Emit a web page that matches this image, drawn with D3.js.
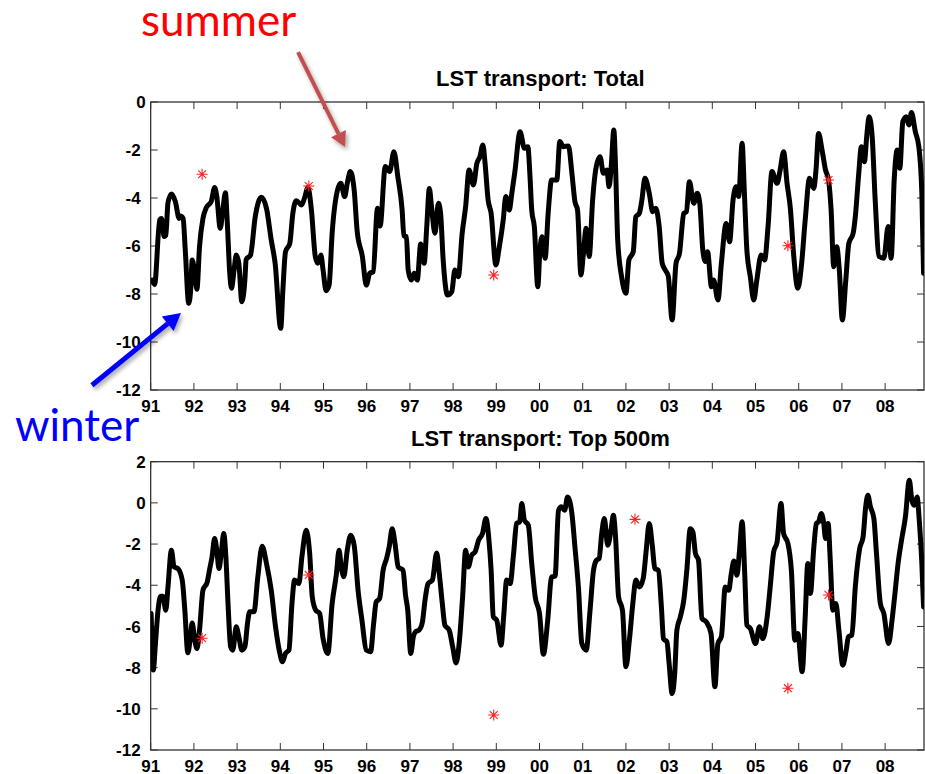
<!DOCTYPE html>
<html>
<head>
<meta charset="utf-8">
<script src="https://cdn.jsdelivr.net/npm/d3@7"></script>
<style>
  body { margin: 0; background: #fff; }
  svg { display: block; }
  .tick-label { font-family: "Liberation Sans", Arial, sans-serif; font-weight: bold; font-size: 17px; fill: #000; }
  .title { font-family: "Liberation Sans", Arial, sans-serif; font-weight: bold; font-size: 22px; fill: #000; }
  .note { font-family: Lato, "Open Sans", sans-serif; font-size: 44px; }
</style>
</head>
<body>
<div id="chart"></div>
<script>
// Série "Total" (années décimales, Sv)
const topYears = [1991.03,1991.09,1991.21,1991.25,1991.31,1991.35,1991.40,1991.48,1991.57,1991.66,1991.69,1991.75,1991.80,1991.88,1991.93,1991.96,
  1992.02,1992.07,1992.13,1992.21,1992.29,1992.40,1992.48,1992.53,1992.61,1992.67,1992.73,1992.77,1992.83,1992.87,1992.93,1992.98,
  1993.04,1993.11,1993.18,1993.21,1993.31,1993.42,1993.56,1993.68,1993.79,1993.88,
  1994.01,1994.06,1994.12,1994.22,1994.29,1994.37,1994.49,1994.56,1994.64,1994.72,1994.81,1994.87,1994.94,1994.99,
  1995.06,1995.13,1995.20,1995.32,1995.40,1995.49,1995.55,1995.62,1995.71,1995.78,1995.90,1995.99,
  1996.07,1996.15,1996.25,1996.31,1996.43,1996.53,1996.63,1996.72,1996.82,1996.86,1996.92,1996.96,
  1997.03,1997.10,1997.17,1997.25,1997.33,1997.39,1997.45,1997.50,1997.58,1997.66,1997.71,1997.77,1997.87,1997.97,
  1998.04,1998.12,1998.21,1998.29,1998.37,1998.47,1998.55,1998.62,1998.69,1998.74,1998.81,1998.88,1998.99,
  1999.07,1999.16,1999.22,1999.30,1999.36,1999.43,1999.55,1999.65,1999.73,1999.78,1999.82,1999.88,1999.96,
  2000.01,2000.06,2000.13,2000.20,2000.28,2000.40,2000.47,2000.55,2000.67,2000.75,2000.82,2000.88,2000.96,
  2001.01,2001.08,2001.15,2001.23,2001.30,2001.40,2001.48,2001.56,2001.61,2001.66,2001.72,2001.76,2001.81,2001.90,
  2002.00,2002.07,2002.17,2002.23,2002.31,2002.37,2002.44,2002.54,2002.62,2002.69,2002.77,2002.84,2002.91,2002.98,
  2003.07,2003.16,2003.24,2003.34,2003.40,2003.47,2003.57,2003.65,2003.71,2003.78,2003.84,2003.89,2003.98,
  2004.03,2004.13,2004.21,2004.32,2004.40,2004.48,2004.55,2004.61,2004.69,2004.74,2004.80,2004.88,2004.96,
  2005.03,2005.13,2005.21,2005.29,2005.38,2005.50,2005.57,2005.65,2005.73,2005.81,2005.88,2005.98,
  2006.06,2006.15,2006.25,2006.35,2006.40,2006.46,2006.54,2006.62,2006.69,2006.75,2006.81,2006.88,2006.94,
  2007.01,2007.09,2007.16,2007.26,2007.31,2007.39,2007.45,2007.52,2007.58,2007.63,2007.70,2007.77,2007.86,2007.97,
  2008.07,2008.14,2008.21,2008.28,2008.34,2008.41,2008.49,2008.55,2008.61,2008.70,2008.78,2008.85,2008.89];
const topValues = [-7.42,-7.6,-4.9,-4.85,-5.6,-5.55,-4.2,-3.83,-4.15,-4.85,-4.75,-4.85,-6.17,-8.39,-7.7,-6.58,
  -7.14,-7.8,-6.03,-4.85,-4.39,-4.15,-3.56,-3.94,-5.26,-4.5,-3.78,-4.92,-7.14,-7.76,-7.0,-6.38,
  -6.72,-8.32,-7.42,-6.56,-6.38,-4.78,-3.97,-4.43,-5.75,-6.72,
  -9.43,-7.83,-6.24,-5.89,-4.64,-4.11,-4.29,-4.01,-3.56,-4.5,-6.44,-6.72,-6.38,-7.0,
  -7.86,-7.63,-5.47,-3.7,-3.39,-3.94,-3.39,-2.9,-3.67,-5.4,-6.44,-7.63,
  -7.14,-7.07,-4.43,-5.17,-2.69,-2.9,-2.07,-3.11,-4.5,-5.58,-5.61,-7.0,
  -7.42,-7.14,-7.42,-5.92,-6.72,-5.19,-3.6,-4.36,-5.47,-4.22,-4.64,-6.58,-8.04,-7.9,
  -7.0,-7.28,-5.47,-4.36,-2.83,-3.46,-2.56,-2.28,-1.79,-2.56,-4.08,-4.64,-6.79,
  -6.03,-4.92,-3.94,-4.5,-3.8,-2.9,-1.24,-1.93,-1.86,-3.11,-4.5,-5.19,-7.7,
  -6.17,-5.61,-6.51,-4.64,-3.25,-3.25,-1.65,-1.86,-1.83,-2.97,-4.15,-4.5,-7.21,
  -6.44,-5.26,-6.44,-4.08,-2.83,-2.28,-2.97,-2.83,-3.53,-2.69,-1.17,-2.69,-5.75,-7.28,
  -7.97,-6.58,-6.24,-4.78,-4.64,-4.08,-3.18,-3.8,-4.57,-4.43,-5.19,-6.72,-7.0,-7.25,
  -9.08,-6.72,-6.31,-4.64,-4.57,-3.32,-4.22,-3.8,-4.22,-6.17,-6.65,-6.24,-7.7,
  -7.42,-8.25,-6.72,-5.06,-5.82,-4.08,-3.53,-3.94,-1.72,-3.67,-6.17,-7.28,-8.25,
  -7.42,-6.38,-6.58,-5.19,-2.9,-3.39,-2.83,-2.07,-3.39,-4.5,-6.31,-7.76,
  -6.86,-4.92,-3.18,-3.6,-2.83,-1.31,-2.0,-2.83,-3.25,-4.5,-6.86,-6.03,-7.0,
  -9.08,-7.42,-5.89,-5.47,-4.78,-2.97,-1.86,-2.49,-1.31,-0.61,-1.44,-4.08,-6.44,-6.51,
  -5.19,-6.51,-3.25,-2.0,-2.76,-0.82,-0.61,-0.96,-0.44,-1.24,-1.86,-3.8,-7.14];

// Série "Top 500m"
const botYears = [1991.01,1991.06,1991.11,1991.17,1991.23,1991.28,1991.35,1991.40,1991.48,1991.54,1991.63,1991.73,1991.79,1991.86,1991.92,1991.96,
  1992.02,1992.07,1992.13,1992.21,1992.31,1992.36,1992.42,1992.48,1992.53,1992.58,1992.64,1992.69,1992.74,1992.79,1992.85,1992.90,1992.98,
  1993.04,1993.11,1993.18,1993.24,1993.29,1993.39,1993.48,1993.58,1993.68,1993.79,1993.89,1993.99,
  1994.05,1994.12,1994.20,1994.27,1994.33,1994.43,1994.50,1994.60,1994.68,1994.74,1994.82,1994.91,1994.99,
  1995.10,1995.20,1995.30,1995.36,1995.41,1995.47,1995.55,1995.63,1995.71,1995.80,1995.89,1995.99,
  1996.09,1996.16,1996.22,1996.30,1996.38,1996.46,1996.52,1996.59,1996.65,1996.73,1996.84,1996.90,1996.95,
  1997.02,1997.08,1997.13,1997.21,1997.29,1997.35,1997.42,1997.52,1997.62,1997.68,1997.75,1997.81,1997.91,1997.99,
  1998.07,1998.14,1998.22,1998.29,1998.35,1998.43,1998.51,1998.59,1998.68,1998.76,1998.83,1998.88,1998.93,
  1999.01,1999.11,1999.17,1999.24,1999.32,1999.40,1999.47,1999.54,1999.59,1999.65,1999.74,1999.82,1999.90,
  2000.00,2000.09,2000.19,2000.28,2000.36,2000.44,2000.51,2000.58,2000.65,2000.75,2000.82,2000.90,2000.98,
  2001.08,2001.17,2001.25,2001.32,2001.38,2001.44,2001.50,2001.58,2001.66,2001.71,2001.76,2001.83,2001.92,
  2002.00,2002.08,2002.16,2002.23,2002.31,2002.40,2002.47,2002.54,2002.61,2002.67,2002.75,2002.82,2002.87,2002.95,
  2003.00,2003.07,2003.13,2003.18,2003.26,2003.34,2003.41,2003.49,2003.55,2003.61,2003.68,2003.76,2003.86,2003.97,
  2004.06,2004.13,2004.21,2004.30,2004.38,2004.44,2004.50,2004.57,2004.63,2004.69,2004.75,2004.80,2004.88,
  2005.00,2005.09,2005.17,2005.27,2005.34,2005.42,2005.50,2005.59,2005.65,2005.75,2005.83,2005.91,2005.98,
  2006.08,2006.15,2006.21,2006.27,2006.35,2006.41,2006.46,2006.52,2006.58,2006.62,2006.68,2006.73,2006.79,2006.86,2006.93,
  2007.02,2007.10,2007.15,2007.23,2007.31,2007.41,2007.49,2007.55,2007.60,2007.66,2007.74,2007.80,2007.89,2007.97,
  2008.08,2008.16,2008.22,2008.30,2008.38,2008.47,2008.56,2008.62,2008.67,2008.74,2008.79,2008.85,2008.89];
const botValues = [-5.37,-8.12,-6.83,-5.21,-4.53,-4.53,-5.21,-4.08,-2.30,-3.11,-3.19,-3.75,-5.21,-7.28,-6.50,-5.83,
  -6.67,-7.07,-6.18,-4.24,-3.83,-3.27,-2.62,-1.73,-2.30,-3.19,-2.30,-1.49,-2.62,-4.89,-6.99,-7.15,-6.02,
  -6.50,-7.15,-6.99,-5.86,-5.29,-5.29,-3.59,-2.10,-2.94,-4.24,-6.02,-7.31,
  -7.72,-7.31,-7.15,-4.89,-3.75,-3.92,-2.62,-1.33,-2.46,-4.56,-5.21,-5.37,-6.59,
  -7.31,-4.89,-3.43,-2.30,-3.11,-3.59,-2.30,-1.57,-2.06,-4.24,-5.70,-7.15,
  -7.23,-5.86,-4.81,-4.64,-3.27,-2.70,-2.14,-1.25,-1.89,-3.11,-3.27,-4.5,-5.21,
  -7.31,-6.50,-6.26,-6.18,-5.78,-4.72,-3.92,-3.75,-2.43,-3.43,-4.89,-5.94,-6.18,-6.99,
  -7.77,-6.83,-4.56,-2.30,-3.11,-2.54,-2.38,-1.81,-1.49,-0.76,-1.81,-3.27,-5.53,
  -5.70,-6.91,-5.53,-3.75,-3.92,-2.46,-1.00,-0.92,-0.03,-0.84,-1.08,-2.94,-4.56,
  -5.37,-7.35,-5.70,-3.59,-3.56,-0.36,-0.19,-0.36,0.29,-0.52,-2.14,-4.08,-6.83,
  -7.15,-5.21,-3.27,-2.78,-2.70,-1.49,-0.76,-2.06,-1.25,-0.60,-1.65,-4.56,-5.21,
  -7.96,-6.67,-4.89,-3.75,-4.08,-3.67,-2.30,-1.00,-2.06,-3.19,-3.27,-5.0,-6.6,-6.75,
  -7.80,-9.26,-8.28,-6.18,-5.53,-4.72,-3.27,-1.25,-1.41,-2.46,-2.78,-5.61,-5.78,-6.34,
  -8.93,-6.83,-6.50,-4.08,-4.24,-3.43,-2.82,-3.51,-2.30,-0.92,-3.43,-5.94,-6.10,
  -6.83,-6.02,-6.59,-5.53,-4.08,-2.38,-1.89,-0.03,-1.49,-1.97,-3.27,-6.67,-6.34,
  -8.20,-5.53,-2.94,-4.40,-2.14,-1.00,-0.92,-0.52,-1.00,-1.73,-1.00,-2.78,-5.21,-4.89,-6.18,
  -7.88,-7.15,-6.50,-6.42,-4.08,-2.22,-1.65,-0.19,0.37,-0.19,-0.76,-2.46,-4.89,-5.37,
  -6.83,-5.70,-4.56,-2.94,-1.81,-0.68,1.10,0.13,-0.11,0.29,-0.84,-2.94,-5.05];

// Observations (étoiles rouges)
const topStarYears = [1992.19, 1994.66, 1998.94, 2005.75, 2006.69];
const topStarValues = [-3.01, -3.5, -7.21, -5.99, -3.25];
const botStarYears = [1992.19, 1994.66, 1998.94, 2002.21, 2005.75, 2006.69];
const botStarValues = [-6.57, -3.5, -10.3, -0.8, -9.0, -4.47];

// Axes
const xDomain = [1991, 2008.9];
const xTicks = d3.range(1991, 2009);
const topYTicks = [0, -2, -4, -6, -8, -10, -12];
const botYTicks = [2, 0, -2, -4, -6, -8, -10, -12];

const width = 925;
const height = 774;
const left = 150.7;
const right = 924;
const tickLen = 7;

const svg = d3.select("#chart").append("svg")
  .attr("width", width)
  .attr("height", height);

const defs = svg.append("defs");
const shadow = defs.append("filter").attr("id", "shadow")
  .attr("x", "-20%").attr("y", "-20%").attr("width", "140%").attr("height", "140%");
shadow.append("feDropShadow")
  .attr("dx", 2).attr("dy", 3).attr("stdDeviation", 2)
  .attr("flood-color", "#000").attr("flood-opacity", 0.35);

const x = d3.scaleLinear().domain(xDomain).range([left, right]);

function starPath(r) {
  const d = r * 0.72;
  return `M${-r},0H${r}M0,${-r}V${r}M${-d},${-d}L${d},${d}M${-d},${d}L${d},${-d}`;
}

function drawPanel(cfg) {
  const y = d3.scaleLinear().domain(cfg.yDomain).range([cfg.bottom, cfg.top]);
  const g = svg.append("g");

  g.append("clipPath").attr("id", cfg.id)
    .append("rect")
    .attr("x", left).attr("y", cfg.top)
    .attr("width", right - left).attr("height", cfg.bottom - cfg.top);

  // Cadre
  g.append("rect")
    .attr("x", left).attr("y", cfg.top)
    .attr("width", right - left).attr("height", cfg.bottom - cfg.top)
    .attr("fill", "none").attr("stroke", "#222").attr("stroke-width", 1.2);

  // Graduations vers l'intérieur (4 côtés)
  xTicks.forEach((t) => {
    g.append("line").attr("x1", x(t)).attr("x2", x(t))
      .attr("y1", cfg.bottom).attr("y2", cfg.bottom - tickLen)
      .attr("stroke", "#333");
    g.append("line").attr("x1", x(t)).attr("x2", x(t))
      .attr("y1", cfg.top).attr("y2", cfg.top + tickLen)
      .attr("stroke", "#333");
    g.append("text").attr("class", "tick-label")
      .attr("x", x(t)).attr("y", cfg.bottom + 22)
      .attr("text-anchor", "middle")
      .text(d3.format("02d")(t % 100));
  });
  cfg.yTicks.forEach((v) => {
    g.append("line").attr("x1", left).attr("x2", left + tickLen)
      .attr("y1", y(v)).attr("y2", y(v)).attr("stroke", "#333");
    g.append("line").attr("x1", right).attr("x2", right - tickLen)
      .attr("y1", y(v)).attr("y2", y(v)).attr("stroke", "#333");
    g.append("text").attr("class", "tick-label")
      .attr("x", left - (v < 0 ? 10 : 5)).attr("y", y(v))
      .attr("dy", "0.36em")
      .attr("text-anchor", "end")
      .text(v);
  });

  // Titre
  g.append("text").attr("class", "title")
    .attr("x", (left + right) / 2 + 3).attr("y", cfg.top - 16)
    .attr("text-anchor", "middle")
    .text(cfg.title);

  // Courbe
  const data = cfg.years.map((t, i) => ({ t: t, v: cfg.values[i] }));
  const line = d3.line()
    .x((d) => x(d.t))
    .y((d) => y(d.v))
    .curve(d3.curveMonotoneX);

  g.append("path")
    .datum(data)
    .attr("clip-path", `url(#${cfg.id})`)
    .attr("d", line)
    .attr("fill", "none")
    .attr("stroke", "#000")
    .attr("stroke-width", 5)
    .attr("stroke-linejoin", "round")
    .attr("stroke-linecap", "round");

  // Étoiles
  g.selectAll(".star")
    .data(cfg.starYears.map((t, i) => ({ t: t, v: cfg.starValues[i] })))
    .enter()
    .append("path")
    .attr("class", "star")
    .attr("transform", (d) => `translate(${x(d.t)},${y(d.v)})`)
    .attr("d", starPath(5.5))
    .attr("fill", "none")
    .attr("stroke", "#ff2020")
    .attr("stroke-width", 1.1);

  return y;
}

const yTop = drawPanel({
  id: "clipTop", top: 102, bottom: 390, yDomain: [-12, 0], yTicks: topYTicks,
  title: "LST transport: Total",
  years: topYears, values: topValues, starYears: topStarYears, starValues: topStarValues
});

drawPanel({
  id: "clipBot", top: 461.7, bottom: 750, yDomain: [-12, 2], yTicks: botYTicks,
  title: "LST transport: Top 500m",
  years: botYears, values: botValues, starYears: botStarYears, starValues: botStarValues
});

// Flèches d'annotation (ancrées sur le panneau du haut)
function arrow(x1, y1, x2, y2, color, w, head) {
  const ang = Math.atan2(y2 - y1, x2 - x1);
  const bx = x2 - head * Math.cos(ang);
  const by = y2 - head * Math.sin(ang);
  const px = Math.sin(ang) * head * 0.55;
  const py = -Math.cos(ang) * head * 0.55;
  const a = svg.append("g").attr("filter", "url(#shadow)");
  a.append("line")
    .attr("x1", x1).attr("y1", y1).attr("x2", bx).attr("y2", by)
    .attr("stroke", color).attr("stroke-width", w);
  a.append("path")
    .attr("d", `M${x2},${y2}L${bx + px},${by + py}L${bx - px},${by - py}Z`)
    .attr("fill", color);
}

arrow(x(1994.41), yTop(2.08), x(1995.5), yTop(-1.875), "#c0504d", 4, 15);
arrow(x(1989.64), yTop(-11.8), x(1991.7), yTop(-8.79), "#0000ff", 5, 17);

svg.append("text").attr("class", "note")
  .attr("x", 141).attr("y", 36)
  .attr("fill", "#ff0000")
  .text("summer");

svg.append("text").attr("class", "note")
  .attr("x", 15).attr("y", 441)
  .attr("fill", "#0000ff")
  .text("winter");
</script>
</body>
</html>
